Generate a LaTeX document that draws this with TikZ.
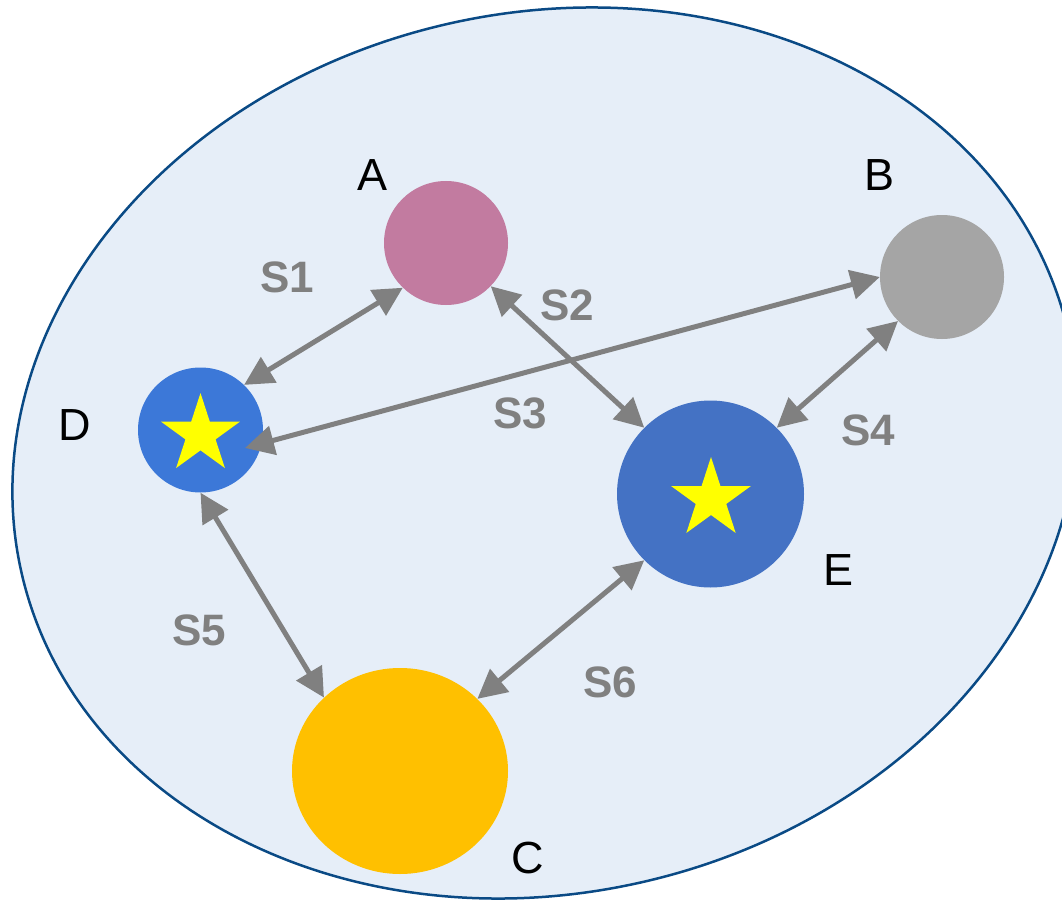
\documentclass[tikz,border=0pt]{standalone}
\usepackage{fontspec}
\setmainfont{Liberation Sans}
\usetikzlibrary{arrows.meta,shapes.geometric}
\definecolor{bgfill}{HTML}{E6EEF8}
\definecolor{bgline}{HTML}{0A4A85}
\definecolor{colA}{HTML}{C27BA0}
\definecolor{colB}{HTML}{A5A5A5}
\definecolor{colC}{HTML}{FFC000}
\definecolor{colD}{HTML}{3C78D8}
\definecolor{colE}{HTML}{4472C4}
\definecolor{arr}{HTML}{808080}
\definecolor{staryel}{HTML}{FFFF00}
\tikzset{
  ball/.style={circle, inner sep=0pt, draw=none},
  starmark/.style={star, star points=5, star point ratio=2.618, fill=staryel, draw=none, inner sep=0pt},
  link/.style={draw=arr, line width=5pt, {Triangle[length=29pt,width=29pt]}-{Triangle[length=29pt,width=29pt]}},
  slabel/.style={text=arr, font=\fontsize{44}{44}\selectfont\bfseries, inner sep=0pt},
  letter/.style={text=black, font=\fontsize{45}{45}\selectfont, inner sep=0pt}
}
\begin{document}
\begin{tikzpicture}[x=1pt,y=-1pt]
\useasboundingbox (0,0) rectangle (1062,904);
\clip (0,0) rectangle (1062,904);
\draw[fill=bgfill, draw=bgline, line width=2.5pt, rotate around={13:(545,453)}] (545,453) ellipse [x radius=537, y radius=440];
\node[ball, fill=colA, minimum size=124pt] (A) at (446,243) {};
\node[ball, fill=colB, minimum size=124pt] (B) at (942,277) {};
\node[ball, fill=colD, minimum size=125pt] (D) at (200.5,430) {};
\node[ball, fill=colE, minimum size=187pt] (E) at (710.5,494) {};
\node[ellipse, inner sep=0pt, fill=colC, minimum width=216pt, minimum height=206pt] (C) at (400,771) {};
\node[starmark, minimum size=83pt] (sD) at (200.5,434.5) {};
\node[starmark, minimum size=84pt] (sE) at (711,499) {};
\node[letter] (lA) at (373,175) {A};
\node[letter] (lB) at (879,175) {B};
\node[letter] (lC) at (528,858) {C};
\node[letter] (lD) at (75,425) {D};
\node[letter] (lE) at (838,570) {E};
\draw[link] (D.46) -- (A.226);
\draw[link] (A.-44) -- (E.135);
\draw[link] ([shift={(44.5,18)}]D.center) -- (B.180);
\draw[link] (B.225) -- (E.45);
\draw[link] (D.270) -- (C.136);
\draw[link] (C.43) -- (E.225);
\node[slabel] (s1) at (287,277) {S1};
\node[slabel] (s2) at (567,305) {S2};
\node[slabel] (s3) at (520,413) {S3};
\node[slabel] (s4) at (868,430) {S4};
\node[slabel] (s5) at (199,630) {S5};
\node[slabel] (s6) at (610,682) {S6};
\end{tikzpicture}
\end{document}
